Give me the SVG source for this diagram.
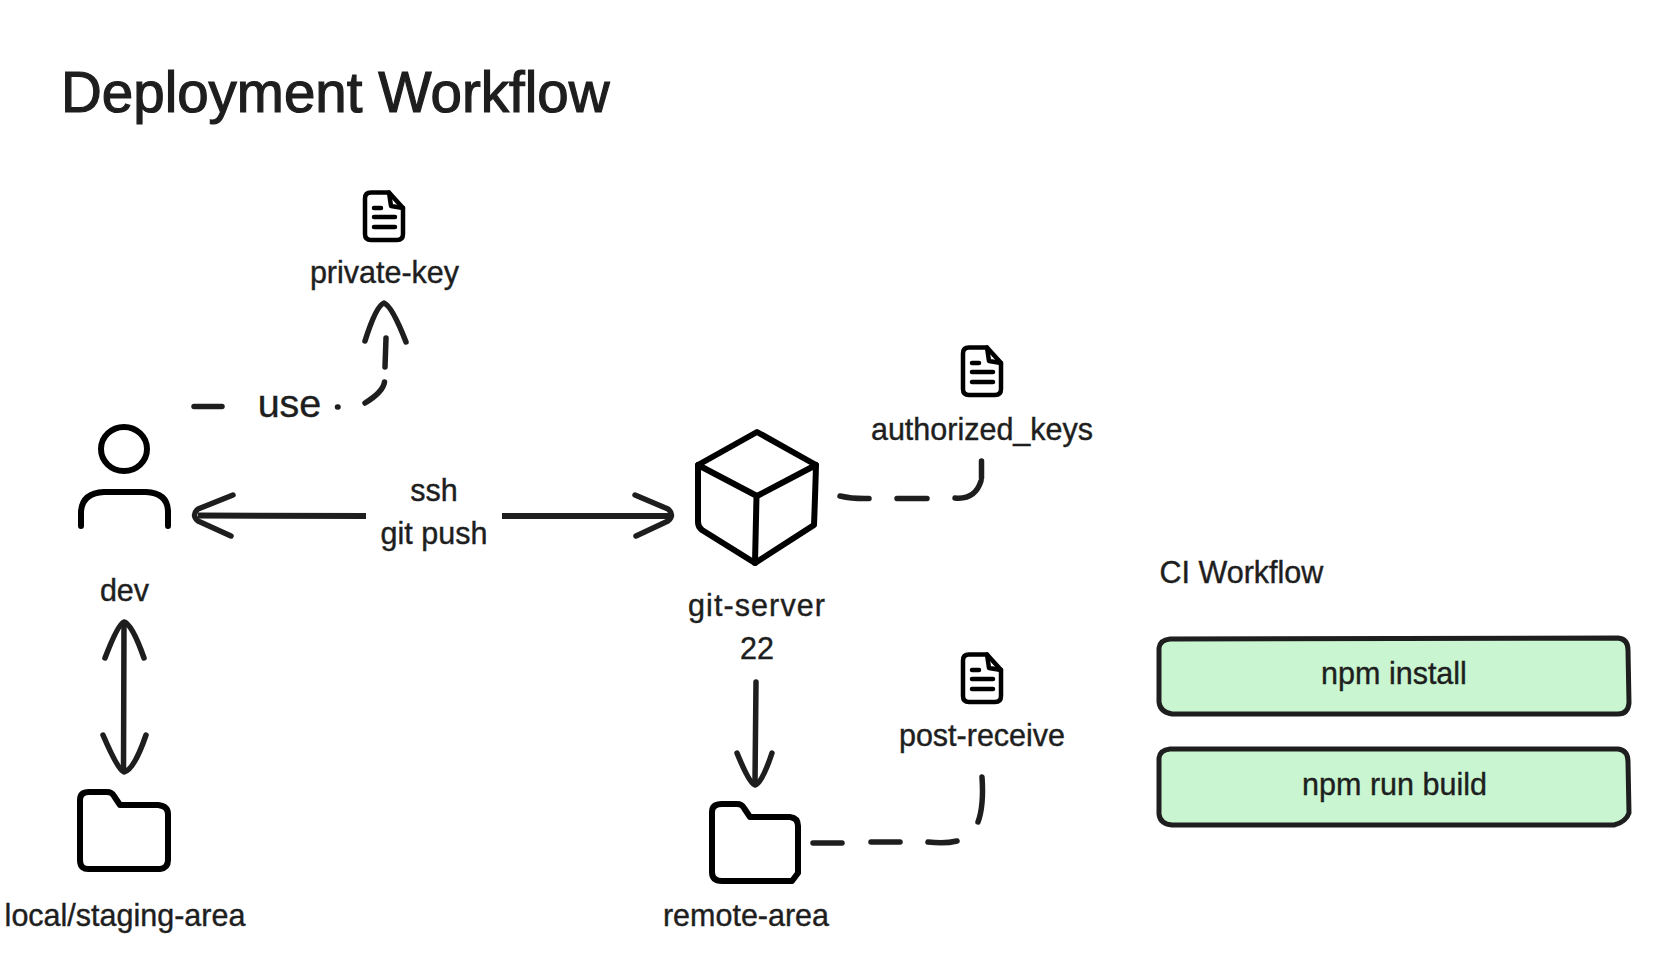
<svg xmlns="http://www.w3.org/2000/svg" xmlns:xlink="http://www.w3.org/1999/xlink" width="1668" height="956" viewBox="0 0 1668 956">
<style>
text{font-family:"Liberation Sans",Arial,sans-serif;font-size:30.500px;fill:#1e1e1e;stroke:#1e1e1e;stroke-width:.4px;text-anchor:middle}
.title{font-size:56.500px;text-anchor:start;stroke-width:1.200px}
.start{text-anchor:start}
.use{font-size:39.500px}
.wide{letter-spacing:1.100px}
.ink{fill:none;stroke:#1e1e1e;stroke-width:5.500px;stroke-linecap:round;stroke-linejoin:round}
.icon{fill:none;stroke:#000;stroke-width:6px;stroke-linecap:round;stroke-linejoin:round}
.doc{stroke-width:4.500px}
.box{fill:#c9f6d1;stroke:#1e1e1e;stroke-width:5px;stroke-linejoin:round}
</style>
<defs>
<g id="doc-icon" class="icon doc">
<path d="M8 1.500H26L40 17V43Q40 49 34 49H8Q2 49 2 43V7.500Q2 1.500 8 1.500Z"/>
<path d="M26 1.500L28 15L40 17"/>
<path d="M11 17H18M11 26H32M11 36H32"/>
</g>
</defs>
<rect width="1668" height="956" fill="#fff"/>
<text id="title" class="title" x="61" y="112">Deployment Workflow</text>
<g id="connectors">
<g id="dev-private-key">
<path class="ink" d="M194 406.500H222M337.500 407H338M365 403Q383 392 384.500 382M386 338L385 367"/>
<path class="ink" d="M365 341Q376 306 384 303Q392 306 406 342"/>
</g>
<g id="dev-git-server">
<path class="ink" style="stroke-linecap:butt;stroke-width:6px" d="M198 515.500L366 516M502 516H670"/>
<path class="ink" d="M233 495L198 509Q191 515 198 521L231 536"/>
<path class="ink" d="M635 495L668 509Q675 515 668 521L636 536"/>
</g>
<g id="dev-local">
<path class="ink" d="M124 624L123.500 770"/>
<path class="ink" d="M105 658Q118 624 124 622Q132 624 144 658"/>
<path class="ink" d="M103 735Q118 770 124 772Q134 770 146 735"/>
</g>
<g id="git-server-authorized-keys">
<path class="ink" d="M840 496Q853 499 869 498.500M897 498.500H927M955 498Q975 500 981 481M981.500 461V478"/>
</g>
<g id="git-server-remote">
<path class="ink" d="M756 682L755 782"/>
<path class="ink" d="M737 753Q750 785 755 785Q762 783 772 753"/>
</g>
<g id="remote-post-receive">
<path class="ink" d="M813 843H842M871 842H900M928 842Q945 844 957 841M982 777Q984 806 978 822"/>
</g>
</g>
<g id="private-key">
<use href="#doc-icon" x="363" y="191"/>
<text x="384.500" y="283">private-key</text>
</g>
<text id="use-label" class="use" x="289.500" y="417">use</text>
<g id="dev">
<ellipse class="icon" cx="124" cy="449" rx="23" ry="22"/>
<path class="icon" d="M81 526V512Q82 493 104 492H146Q168 493 168 512V526"/>
<text x="124.500" y="601">dev</text>
</g>
<g id="ssh-label">
<text x="434" y="501">ssh</text>
<text x="434" y="544">git push</text>
</g>
<g id="git-server">
<path class="icon" d="M757 432L816 465Q815 500 814 525L755 563L702 530Q698 527 698 522V465Z"/>
<path class="icon" d="M698 465L757 496L816 465M756.500 496L755 563"/>
<text class="wide" x="757" y="616">git-server</text>
<text x="757" y="659">22</text>
</g>
<g id="authorized-keys">
<use href="#doc-icon" x="961" y="346"/>
<text x="982" y="440">authorized_keys</text>
</g>
<g id="post-receive">
<use href="#doc-icon" x="961" y="653"/>
<text x="982" y="745.500">post-receive</text>
</g>
<g id="local-staging-area">
<path class="icon" d="M89 792H107Q112 792 114 796L120 805H158Q168 806 168 814V860Q168 868 160 869H90Q80 870 80 860V800Q80 792 89 792Z"/>
<text x="125" y="926">local/staging-area</text>
</g>
<g id="remote-area">
<path class="icon" d="M722 804H737Q742 804 744 808L750 817H790Q798 818 798 826V873L792 881H722Q712 881 712 872V812Q712 804 722 804Z"/>
<text x="746" y="926">remote-area</text>
</g>
<text id="ci-title" class="start" x="1159.500" y="583">CI Workflow</text>
<g id="npm-install">
<path class="box" d="M1170 639L1618 638Q1628 639 1628 650L1629 703Q1628 714 1618 714L1172 714Q1160 712 1159 702L1159 648Q1160 640 1170 639Z"/>
<text x="1394" y="684">npm install</text>
</g>
<g id="npm-run-build">
<path class="box" d="M1170 749L1618 749Q1628 750 1628 762L1629 813Q1626 822 1614 825L1172 825Q1160 824 1159 814L1159 758Q1160 750 1170 749Z"/>
<text x="1394.500" y="795">npm run build</text>
</g>
</svg>
